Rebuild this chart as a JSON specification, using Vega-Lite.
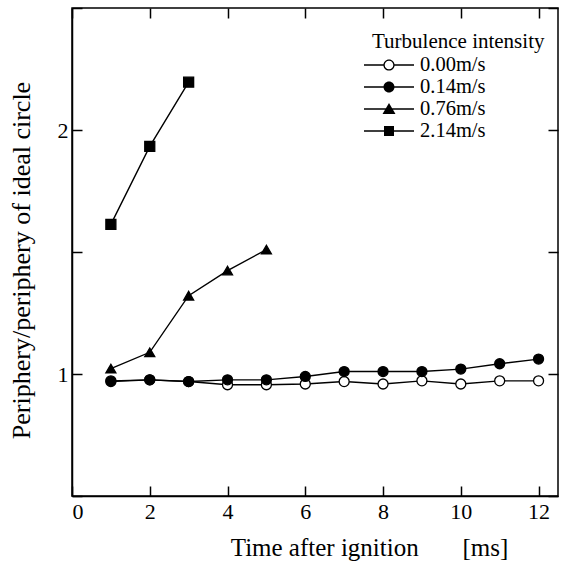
{
  "$schema": "https://vega.github.io/schema/vega-lite/v6.json",
  "width": 486,
  "height": 488,
  "autosize": {"type": "none"},
  "padding": {"left": 72, "top": 8, "right": 8, "bottom": 66},
  "background": "white",
  "config": {
    "font": "Liberation Serif",
    "view": {"stroke": "black", "strokeWidth": 1.5},
    "axis": {
      "grid": false,
      "domainColor": "black",
      "domainWidth": 1.5,
      "tickColor": "black",
      "tickWidth": 1.5,
      "tickSize": -10,
      "ticks": true,
      "labelColor": "black",
      "labelFont": "Liberation Serif",
      "labelFontSize": 22,
      "titleColor": "black",
      "titleFont": "Liberation Serif",
      "titleFontSize": 25,
      "titleFontWeight": "normal"
    },
    "legend": {
      "titleFont": "Liberation Serif",
      "titleFontSize": 21,
      "titleFontWeight": "normal",
      "titleColor": "black",
      "labelFont": "Liberation Serif",
      "labelFontSize": 20.5,
      "labelColor": "black"
    }
  },
  "data": {
    "values": [
      {"t": 1, "v": 0.972, "series": "0.00m/s"},
      {"t": 2, "v": 0.976, "series": "0.00m/s"},
      {"t": 3, "v": 0.969, "series": "0.00m/s"},
      {"t": 4, "v": 0.956, "series": "0.00m/s"},
      {"t": 5, "v": 0.956, "series": "0.00m/s"},
      {"t": 6, "v": 0.959, "series": "0.00m/s"},
      {"t": 7, "v": 0.969, "series": "0.00m/s"},
      {"t": 8, "v": 0.959, "series": "0.00m/s"},
      {"t": 9, "v": 0.972, "series": "0.00m/s"},
      {"t": 10, "v": 0.959, "series": "0.00m/s"},
      {"t": 11, "v": 0.972, "series": "0.00m/s"},
      {"t": 12, "v": 0.972, "series": "0.00m/s"},
      {"t": 1, "v": 0.969, "series": "0.14m/s"},
      {"t": 2, "v": 0.976, "series": "0.14m/s"},
      {"t": 3, "v": 0.969, "series": "0.14m/s"},
      {"t": 4, "v": 0.976, "series": "0.14m/s"},
      {"t": 5, "v": 0.976, "series": "0.14m/s"},
      {"t": 6, "v": 0.99, "series": "0.14m/s"},
      {"t": 7, "v": 1.01, "series": "0.14m/s"},
      {"t": 8, "v": 1.01, "series": "0.14m/s"},
      {"t": 9, "v": 1.01, "series": "0.14m/s"},
      {"t": 10, "v": 1.02, "series": "0.14m/s"},
      {"t": 11, "v": 1.042, "series": "0.14m/s"},
      {"t": 12, "v": 1.061, "series": "0.14m/s"},
      {"t": 1, "v": 1.022, "series": "0.76m/s"},
      {"t": 2, "v": 1.089, "series": "0.76m/s"},
      {"t": 3, "v": 1.321, "series": "0.76m/s"},
      {"t": 4, "v": 1.424, "series": "0.76m/s"},
      {"t": 5, "v": 1.51, "series": "0.76m/s"},
      {"t": 1, "v": 1.613, "series": "2.14m/s"},
      {"t": 2, "v": 1.933, "series": "2.14m/s"},
      {"t": 3, "v": 2.196, "series": "2.14m/s"}
    ]
  },
  "resolve": {
    "scale": {"shape": "independent"},
    "axis": {"x": "independent", "y": "independent"},
    "legend": {"shape": "independent"}
  },
  "layer": [
    {
      "mark": {"type": "line", "color": "black", "strokeWidth": 1.4},
      "encoding": {
        "x": {
          "field": "t", "type": "quantitative",
          "scale": {"domain": [0, 12.5], "nice": false},
          "axis": {
            "values": [0, 2, 4, 6, 8, 10, 12],
            "tickSize": -10,
            "labelPadding": 15,
            "title": "Time after ignition\u00a0\u00a0\u00a0\u00a0\u00a0\u00a0\u00a0[ms]",
            "titleX": 297,
            "titleY": 59,
            "titleAlign": "center",
            "titleBaseline": "alphabetic"
          }
        },
        "y": {
          "field": "v", "type": "quantitative",
          "scale": {"domain": [0.5, 2.5], "nice": false, "zero": false},
          "axis": {
            "values": [0.5, 1, 1.5, 2, 2.5],
            "tickSize": -10,
            "labelExpr": "datum.value == 1 ? '1' : datum.value == 2 ? '2' : ''",
            "labelPadding": 14,
            "title": "Periphery/periphery of ideal circle",
            "titleFontSize": 26,
            "titleX": -38,
            "titleY": 252,
            "titleAlign": "center",
            "titleAngle": 270,
            "titleBaseline": "bottom"
          }
        },
        "detail": {"field": "series"},
        "order": {"field": "t"}
      }
    },
    {
      "mark": {"type": "point", "filled": true, "stroke": "black", "strokeWidth": 1.3, "opacity": 1},
      "encoding": {
        "x": {
          "field": "t", "type": "quantitative",
          "axis": {"orient": "top", "values": [0, 2, 4, 6, 8, 10, 12], "tickSize": -10, "labels": false, "title": null, "domain": false}
        },
        "y": {
          "field": "v", "type": "quantitative",
          "axis": {"orient": "right", "values": [0.5, 1, 1.5, 2, 2.5], "tickSize": -10, "labels": false, "title": null, "domain": false}
        },
        "shape": {
          "field": "series", "type": "nominal",
          "scale": {"domain": ["0.00m/s", "0.14m/s", "0.76m/s", "2.14m/s"], "range": ["circle", "circle", "triangle-up", "square"]},
          "legend": null
        },
        "fill": {
          "field": "series", "type": "nominal",
          "scale": {"domain": ["0.00m/s", "0.14m/s", "0.76m/s", "2.14m/s"], "range": ["white", "black", "black", "black"]},
          "legend": null
        },
        "size": {
          "field": "series", "type": "nominal",
          "scale": {"domain": ["0.00m/s", "0.14m/s", "0.76m/s", "2.14m/s"], "range": [100, 100, 150, 90]},
          "legend": null
        }
      }
    },
    {
      "mark": {"type": "point", "opacity": 0, "filled": true, "fill": "black"},
      "encoding": {
        "x": {"field": "t", "type": "quantitative", "axis": null},
        "y": {"field": "v", "type": "quantitative", "axis": null},
        "shape": {
          "field": "series", "type": "nominal",
          "scale": {
            "domain": ["0.00m/s", "0.14m/s", "0.76m/s", "2.14m/s"],
            "range": [
              "M-2.5,-0.07L-0.45,-0.07L-0.45,0.07L-2.5,0.07ZM0.45,-0.07L2.5,-0.07L2.5,0.07L0.45,0.07ZM-0.56,0A0.56,0.56,0,1,1,0.56,0A0.56,0.56,0,1,1,-0.56,0ZM-0.43,0A0.43,0.43,0,1,0,0.43,0A0.43,0.43,0,1,0,-0.43,0Z",
              "M-2.5,-0.07L2.5,-0.07L2.5,0.07L-2.5,0.07ZM-0.55,0A0.55,0.55,0,1,1,0.55,0A0.55,0.55,0,1,1,-0.55,0Z",
              "M-2.5,-0.07L2.5,-0.07L2.5,0.07L-2.5,0.07ZM0,-0.6L0.65,0.5L-0.65,0.5Z",
              "M-2.5,-0.07L2.5,-0.07L2.5,0.07L-2.5,0.07ZM-0.5,-0.5L0.5,-0.5L0.5,0.5L-0.5,0.5Z"
            ]
          },
          "legend": {
            "title": "Turbulence intensity",
            "orient": "none",
            "legendX": 300,
            "legendY": 23,
            "padding": 0,
            "symbolSize": 400,
            "symbolOffset": 6,
            "labelOffset": 20,
            "rowPadding": -1.3,
            "titlePadding": 2,
            "symbolFillColor": "black",
            "symbolOpacity": 1,
            "encode": {
              "symbols": {
                "update": {
                  "opacity": {"value": 1},
                  "fill": {"value": "black"}
                }
              }
            }
          }
        }
      }
    }
  ]
}
